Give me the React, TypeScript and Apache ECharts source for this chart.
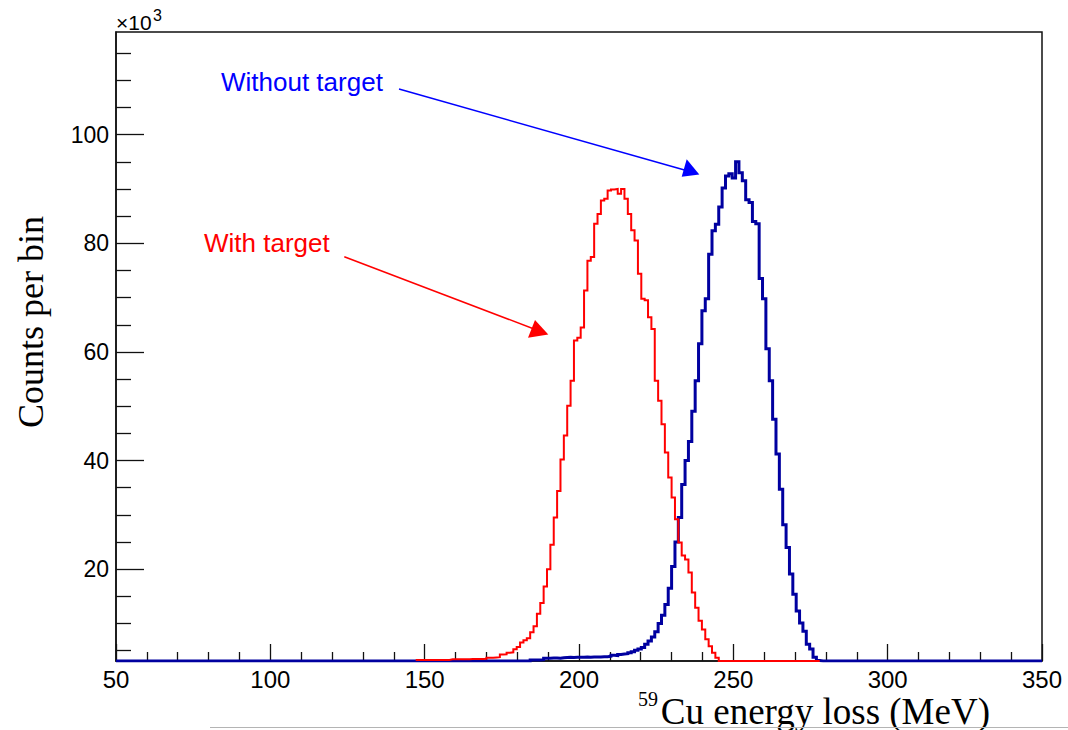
import React, { useEffect, useRef } from "react";
import * as echarts from "echarts";

// ---- axis set-up ----
const X_MIN = 50;
const X_MAX = 350;
const N_BINS = 275;
const BIN_WIDTH = (X_MAX - X_MIN) / N_BINS;
const Y_MIN = 3.1; // x10^3
const Y_MAX = 118.9;

const xTickValues = [50, 100, 150, 200, 250, 300, 350];
const yMajorTicks = [20, 40, 60, 80, 100];
const yMinorTicks = [5, 10, 15, 25, 30, 35, 45, 50, 55, 65, 70, 75, 85, 90, 95, 105, 110, 115];

// ---- histogram contents (counts per bin, x10^3) ----
// "With target" – first filled bin index
const RED_FIRST_BIN = 89;
const redCounts = [
  3.28, 3.28, 3.28, 3.28, 3.3, 3.3, 3.3, 3.28, 3.3, 3.3,
  3.4, 3.4, 3.4, 3.42, 3.4, 3.42, 3.45, 3.45, 3.45, 3.48,
  3.5, 3.7, 3.7, 3.75, 3.8, 4.3, 4.35, 4.6, 4.7, 5.25,
  5.7, 6.5, 6.9, 7.3, 8.4, 9.5, 11.8, 13.8, 16.8, 20.0,
  24.5, 29.5, 34.4, 40.2, 44.6, 50.1, 54.7, 62.1, 62.6, 64.5,
  71.3, 76.8, 77.5, 83.6, 85.4, 87.9, 88.2, 89.7, 89.9, 90.0,
  89.1, 90.0, 88.2, 85.4, 82.4, 80.5, 74.4, 69.8, 69.5, 66.4,
  64.2, 54.7, 51.0, 46.7, 41.5, 36.9, 33.2, 29.2, 24.9, 22.5,
  21.8, 19.4, 15.7, 12.9, 10.5, 8.9, 7.1, 5.8, 4.6, 3.7,
  0, 0, 0, 0, 0, 0, 0, 0, 0, 0,
  0, 0, 0, 0, 0, 0, 0, 0, 0, 0,
  0, 0, 0, 0, 0, 0, 0, 0, 0, 0,
];

// "Without target" – first filled bin index (all other bins empty)
const BLUE_FIRST_BIN = 123;
const blueCounts = [
  3.28, 3.28, 3.3, 3.35, 3.6, 3.6, 3.65, 3.65, 3.6, 3.7,
  3.75, 3.8, 3.75, 3.8, 3.8, 3.8, 3.85, 3.8, 3.85, 3.85,
  3.85, 3.9, 3.9, 4.0, 4.15, 4.1, 4.3, 4.4, 4.45, 4.6,
  4.8, 5.1, 5.3, 5.6, 6.2, 6.8, 7.5, 8.5, 10.0, 11.5,
  13.5, 16.5, 20.5, 25.0, 29.5, 35.6, 40.0, 43.5, 49.1, 54.7,
  61.5, 67.6, 69.8, 78.0, 82.3, 83.5, 86.7, 90.2, 92.4, 92.8,
  92.0, 95.0, 93.0, 91.5, 88.0, 87.5, 84.0, 83.6, 73.5, 69.8,
  60.6, 54.7, 47.6, 41.2, 34.7, 28.2, 24.0, 19.1, 15.4, 12.3,
  10.1, 8.6, 6.2, 5.3, 3.8, 3.2,
];

function binValue(k: number, first: number, counts: number[]) {
  const i = k - first;
  return i >= 0 && i < counts.length ? counts[i] : 0;
}

// histogram outline points; values below the axis minimum are drawn on the frame (as ROOT does)
function histPoints(startBin: number, endBin: number, first: number, counts: number[]) {
  const pts: number[][] = [];
  let last = 0;
  for (let k = startBin; k <= endBin; k++) {
    last = Math.max(binValue(k, first, counts), Y_MIN);
    pts.push([X_MIN + k * BIN_WIDTH, last]);
  }
  pts.push([X_MIN + (endBin + 1) * BIN_WIDTH, last]);
  return pts;
}

const FONT_SANS = '"Liberation Sans", Arial, Helvetica, sans-serif';
const FONT_SERIF = '"Liberation Serif", "Times New Roman", serif';

export default function App() {
  const ref = useRef<HTMLDivElement>(null);

  useEffect(() => {
    if (!ref.current) return;
    const chart = echarts.init(ref.current, null, { renderer: "svg" });

    const tickLine = { color: "#111", width: 1.3 };
    const frameLine = { color: "#111", width: 1.5 };

    const text = (
      x: number,
      y: number,
      str: string,
      font: string,
      fill: string,
      align: string,
      extra: any = {},
      lineHeight?: number
    ) => ({
      type: "text",
      x,
      y,
      z: 100,
      ...extra,
      style: {
        text: str,
        font,
        fill,
        align,
        verticalAlign: "middle",
        textAlign: align,
        textVerticalAlign: "middle",
        ...(lineHeight ? { lineHeight } : {}),
      },
    });

    const option: any = {
      animation: false,
      backgroundColor: "#ffffff",
      grid: {
        left: 116,
        right: 26,
        top: 32,
        bottom: 69,
        show: true,
        borderColor: "#111",
        borderWidth: 1.5,
        backgroundColor: "transparent",
      },
      xAxis: {
        type: "value",
        min: X_MIN,
        max: X_MAX,
        interval: 50,
        axisLine: { show: true, lineStyle: frameLine },
        axisTick: { show: true, inside: true, length: 17, lineStyle: tickLine },
        minorTick: { show: true, splitNumber: 5, length: 9, lineStyle: tickLine },
        splitLine: { show: false },
        minorSplitLine: { show: false },
        axisLabel: {
          show: true,
          margin: 9,
          color: "#000",
          fontSize: 24,
          lineHeight: 18,
          fontFamily: FONT_SANS,
          showMinLabel: true,
          showMaxLabel: true,
          customValues: xTickValues,
        },
      },
      yAxis: [
        {
          type: "value",
          position: "left",
          min: Y_MIN,
          max: Y_MAX,
          axisLine: { show: true, lineStyle: frameLine },
          axisTick: {
            show: true,
            inside: true,
            length: 28,
            lineStyle: tickLine,
            customValues: yMajorTicks,
          },
          axisLabel: {
            show: true,
            margin: 7,
            color: "#000",
            fontSize: 23,
            fontFamily: FONT_SANS,
            customValues: yMajorTicks,
          },
          splitLine: { show: false },
        },
        {
          type: "value",
          position: "left",
          min: Y_MIN,
          max: Y_MAX,
          axisLine: { show: false },
          axisTick: {
            show: true,
            inside: true,
            length: 15,
            lineStyle: tickLine,
            customValues: yMinorTicks,
          },
          axisLabel: { show: false },
          splitLine: { show: false },
        },
      ],
      series: [
        {
          name: "Without target",
          type: "line",
          step: "end",
          xAxisIndex: 0,
          yAxisIndex: 0,
          showSymbol: false,
          symbol: "none",
          clip: true,
          z: 2,
          lineStyle: { color: "#0000a0", width: 3, join: "miter" },
          data: histPoints(0, N_BINS - 1, BLUE_FIRST_BIN, blueCounts),
        },
        {
          name: "With target",
          type: "line",
          step: "end",
          xAxisIndex: 0,
          yAxisIndex: 0,
          showSymbol: false,
          symbol: "none",
          clip: true,
          z: 3,
          lineStyle: { color: "#ff0000", width: 2, join: "miter" },
          data: histPoints(
            RED_FIRST_BIN,
            RED_FIRST_BIN + redCounts.length - 1,
            RED_FIRST_BIN,
            redCounts
          ),
        },
      ],
      graphic: [
        text(116, 22, "×10", `21px ${FONT_SANS}`, "#000", "left"),
        text(153, 15, "3", `16px ${FONT_SANS}`, "#000", "left"),
        text(31, 322, "Counts per bin", `36px ${FONT_SERIF}`, "#000", "center", {
          rotation: Math.PI / 2,
        }),
        text(990, 711, "Cu energy loss (MeV)", `37px ${FONT_SERIF}`, "#000", "right", {}, 28),
        text(658, 699, "59", `20px ${FONT_SERIF}`, "#000", "right", {}, 14),
        text(221, 82, "Without target", `26px ${FONT_SANS}`, "#0000ff", "left"),
        text(204, 242.5, "With target", `26px ${FONT_SANS}`, "#ff0000", "left"),
        {
          type: "line",
          z: 100,
          shape: { x1: 399, y1: 89, x2: 688, y2: 171 },
          style: { stroke: "#0000ff", lineWidth: 1.5 },
        },
        {
          type: "polygon",
          z: 100,
          shape: { points: [[699.3, 174.5], [681.7, 176.7], [686.7, 159.3]] },
          style: { fill: "#0000ff" },
        },
        {
          type: "line",
          z: 100,
          shape: { x1: 344.3, y1: 256.7, x2: 538, y2: 330.5 },
          style: { stroke: "#ff0000", lineWidth: 1.5 },
        },
        {
          type: "polygon",
          z: 100,
          shape: { points: [[548.3, 334.5], [528, 337.7], [535, 320]] },
          style: { fill: "#ff0000" },
        },
        {
          type: "line",
          z: 100,
          shape: { x1: 210, y1: 727.5, x2: 1068, y2: 727.5 },
          style: { stroke: "#b4b4b4", lineWidth: 1 },
        },
      ],
    };

    chart.setOption(option);
    return () => {
      chart.dispose();
    };
  }, []);

  return (
    <div
      ref={ref}
      style={{
        position: "absolute",
        left: 0,
        top: 0,
        width: 1068,
        height: 730,
        background: "#fff",
      }}
    />
  );
}
